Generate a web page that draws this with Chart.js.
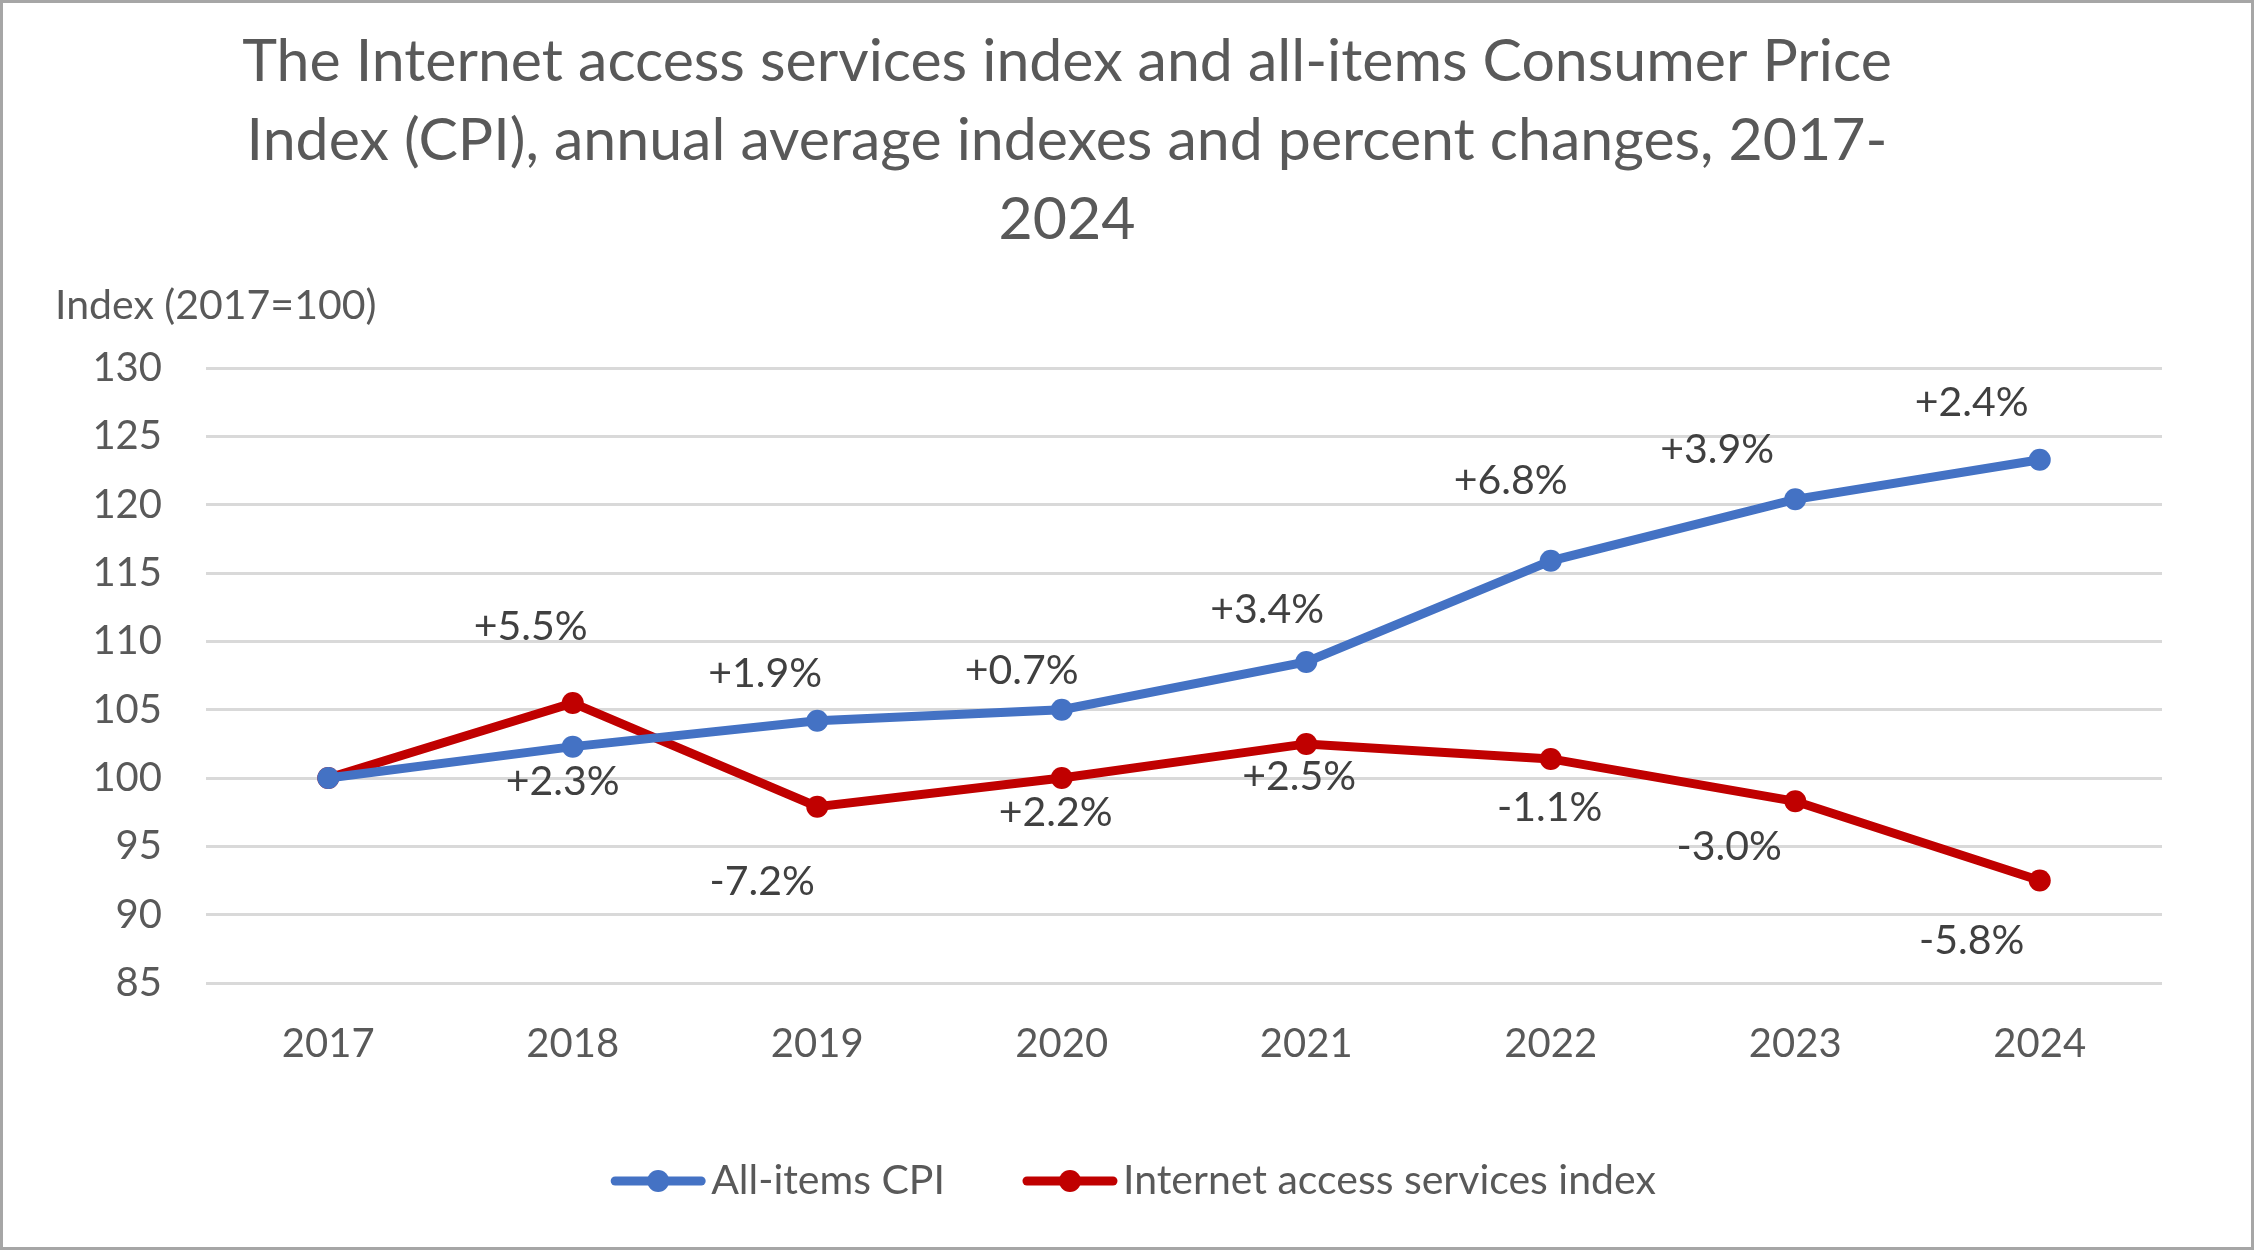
<!DOCTYPE html>
<html>
<head>
<meta charset="utf-8">
<title>Internet access services index and CPI</title>
<script src="https://cdn.jsdelivr.net/npm/chart.js@4.4.1/dist/chart.umd.min.js"></script>
<style>
  html, body { margin: 0; padding: 0; background: #fff; }
  canvas { display: block; }
</style>
</head>
<body>
<canvas id="cpiChart" width="2254" height="1250"></canvas>
<script>
// data
const years = ['2017', '2018', '2019', '2020', '2021', '2022', '2023', '2024'];
const cpiIndex = [100, 102.3, 104.2, 105.0, 108.5, 115.9, 120.4, 123.3];
const internetIndex = [100, 105.5, 97.9, 100.0, 102.5, 101.4, 98.3, 92.5];
const cpiChange = [null, '+2.3%', '+1.9%', '+0.7%', '+3.4%', '+6.8%', '+3.9%', '+2.4%'];
const internetChange = [null, '+5.5%', '-7.2%', '+2.2%', '+2.5%', '-1.1%', '-3.0%', '-5.8%'];
const seriesNames = ['All-items CPI', 'Internet access services index'];
const titleLines = [
    'The Internet access services index and all-items Consumer Price',
    'Index (CPI), annual average indexes and percent changes, 2017-',
    '2024'
];
const yAxisLabel = 'Index (2017=100)';
const yMin = 85, yMax = 130, yStep = 5;

// where each percent label sits relative to its point (px)
const cpiLabelOffsets = [[0, 0], [-10, 35], [-52, -47], [-40, -39], [-39, -52], [-40, -80], [-78, -50], [-68, -57]];
const internetLabelOffsets = [[0, 0], [-42, -76], [-55, 75], [-6, 35], [-7, 33], [-1, 49], [-66, 45], [-68, 60]];

const BLUE = '#4472C4';
const RED = '#C00000';
const FONT = 'Lato';
const TEXT_GREY = '#595959';

const frame = {
    id: 'frame',
    beforeDraw(chart) {
        const ctx = chart.ctx;
        ctx.save();
        ctx.fillStyle = '#fff';
        ctx.fillRect(0, 0, chart.width, chart.height);
        ctx.strokeStyle = '#A6A6A6';
        ctx.lineWidth = 3;
        ctx.strokeRect(1.5, 1.5, chart.width - 3, chart.height - 3);
        ctx.restore();
    },
    afterDraw(chart) {
        // horizontal axis caption above the value axis
        const ctx = chart.ctx;
        const area = chart.chartArea;
        ctx.save();
        ctx.font = '41px ' + FONT;
        ctx.fillStyle = TEXT_GREY;
        ctx.textAlign = 'left';
        ctx.textBaseline = 'middle';
        ctx.fillText(yAxisLabel, area.left - 151, area.top - 62);
        ctx.restore();
    }
};

const changeLabels = {
    id: 'changeLabels',
    afterDatasetsDraw(chart) {
        const ctx = chart.ctx;
        ctx.save();
        ctx.font = '41px ' + FONT;
        ctx.fillStyle = '#404040';
        ctx.textAlign = 'center';
        ctx.textBaseline = 'middle';
        chart.data.datasets.forEach((ds, i) => {
            chart.getDatasetMeta(i).data.forEach((pt, j) => {
                const text = ds.changeLabels[j];
                if (!text) return;
                const off = ds.labelOffsets[j];
                ctx.fillText(text, pt.x + off[0], pt.y + off[1]);
            });
        });
        ctx.restore();
    }
};

// Excel style legend: line with a dot, centred a bit right of the middle
const excelLegend = {
    id: 'excelLegend',
    afterDraw(chart) {
        const ctx = chart.ctx;
        const y = chart.chartArea.bottom + 198;
        const sym = 96, gap = 5, itemGap = 77;
        ctx.save();
        ctx.font = '41px ' + FONT;
        const items = chart.data.datasets.map(ds => ({ ds: ds, w: ctx.measureText(ds.label).width }));
        const total = items.reduce((s, it) => s + sym + gap + it.w, 0) + itemGap * (items.length - 1);
        let x = chart.width / 2 + 6 - total / 2;
        items.forEach(it => {
            ctx.strokeStyle = it.ds.borderColor;
            ctx.lineWidth = 9;
            ctx.lineCap = 'round';
            ctx.beginPath();
            ctx.moveTo(x + 5, y);
            ctx.lineTo(x + sym - 5, y);
            ctx.stroke();
            ctx.fillStyle = it.ds.borderColor;
            ctx.beginPath();
            ctx.arc(x + sym / 2, y, 11, 0, Math.PI * 2);
            ctx.fill();
            ctx.fillStyle = TEXT_GREY;
            ctx.textAlign = 'left';
            ctx.textBaseline = 'middle';
            ctx.fillText(it.ds.label, x + sym + gap, y);
            x += sym + gap + it.w + itemGap;
        });
        ctx.restore();
    }
};

function lineSeries(label, values, color, changes, offsets) {
    return {
        label: label,
        data: values,
        borderColor: color,
        backgroundColor: color,
        borderWidth: 9,
        pointRadius: 11,
        pointHoverRadius: 11,
        pointBackgroundColor: color,
        pointBorderWidth: 0,
        tension: 0,
        changeLabels: changes,
        labelOffsets: offsets
    };
}

new Chart(document.getElementById('cpiChart'), {
    type: 'line',
    data: {
        labels: years,
        datasets: [
            lineSeries(seriesNames[0], cpiIndex, BLUE, cpiChange, cpiLabelOffsets),
            lineSeries(seriesNames[1], internetIndex, RED, internetChange, internetLabelOffsets)
        ]
    },
    options: {
        responsive: false,
        animation: false,
        devicePixelRatio: 1,
        // the negative left pad moves the centred title a little left, as in the original
        layout: { padding: { left: -28, right: 92, top: 0, bottom: 167 } },
        plugins: {
            legend: { display: false },
            tooltip: { enabled: false },
            title: {
                display: true,
                text: titleLines,
                color: TEXT_GREY,
                font: { family: FONT, size: 59, weight: 'normal', lineHeight: 1.34 },
                padding: { top: 22, bottom: 109 }
            }
        },
        scales: {
            x: {
                offset: true,
                grid: { display: false, drawTicks: false },
                border: { display: false },
                ticks: { color: TEXT_GREY, font: { family: FONT, size: 40 }, padding: 37, maxRotation: 0 },
                afterFit: s => { s.height = 100; }
            },
            y: {
                min: yMin,
                max: yMax,
                grid: { color: '#D9D9D9', lineWidth: 3, drawTicks: false },
                border: { display: false },
                ticks: { stepSize: yStep, color: TEXT_GREY, font: { family: FONT, size: 40 }, padding: 44 },
                afterFit: s => { s.width = 234; }
            }
        }
    },
    plugins: [frame, changeLabels, excelLegend]
});
</script>
</body>
</html>
